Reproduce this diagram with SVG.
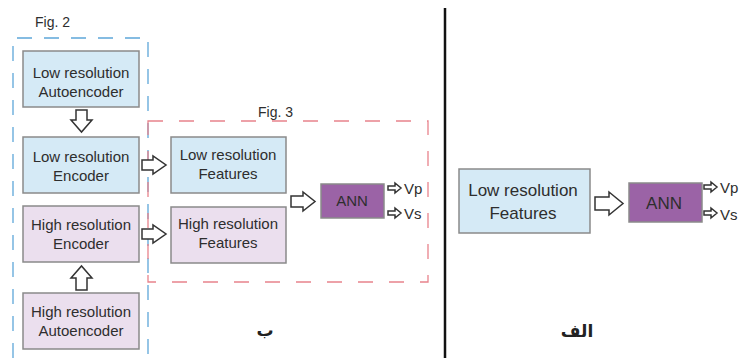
<svg xmlns="http://www.w3.org/2000/svg" width="748" height="358" viewBox="0 0 748 358">
<style>
.box{stroke:#8a8a8a;stroke-width:1.5}
.lo{fill:#d5eaf6}
.hi{fill:#ebdfee}
.ann{fill:#9b63a6}
.t{font-family:"Liberation Sans",Arial,sans-serif;font-size:15px;fill:#2e2e2e;text-anchor:middle}
.tb{font-family:"Liberation Sans",Arial,sans-serif;font-size:17px;fill:#2e2e2e;text-anchor:middle}
.lab{font-family:"Liberation Sans",Arial,sans-serif;font-size:14px;fill:#2e2e2e}
.arr{fill:#fff;stroke:#333;stroke-width:1.5;stroke-linejoin:miter}
.ar{font-family:"DejaVu Sans",sans-serif;font-size:17px;font-weight:bold;fill:#222;text-anchor:middle}
</style>
<rect width="748" height="358" fill="#fff"/>
<g id="fig2-frame">
<path d="M13 358 V38 H148 V358" fill="none" stroke="#5ea7d9" stroke-width="1.3" stroke-dasharray="15,12"/>
<text class="lab" x="35" y="27">Fig. 2</text>
</g>
<g id="fig3-frame">
<rect x="148" y="121" width="280" height="161" fill="none" stroke="#e8838c" stroke-width="1.3" stroke-dasharray="15,16"/>
<text class="lab" x="258" y="117">Fig. 3</text>
</g>
<g id="divider"><line x1="445" y1="8" x2="445" y2="358" stroke="#111" stroke-width="2.5"/></g>
<g id="lr-autoencoder"><rect class="box lo" x="23" y="51" width="116" height="56"/><text class="t" x="81" y="78">Low resolution</text><text class="t" x="81" y="97">Autoencoder</text></g>
<g id="lr-encoder"><rect class="box lo" x="23" y="137" width="116" height="56"/><text class="t" x="81" y="162">Low resolution</text><text class="t" x="81" y="181">Encoder</text></g>
<g id="hr-encoder"><rect class="box hi" x="23" y="206" width="116" height="56"/><text class="t" x="81" y="230">High resolution</text><text class="t" x="81" y="249">Encoder</text></g>
<g id="hr-autoencoder"><rect class="box hi" x="23" y="293" width="116" height="56"/><text class="t" x="81" y="317">High resolution</text><text class="t" x="81" y="336">Autoencoder</text></g>
<g id="lr-features"><rect class="box lo" x="171" y="137" width="115" height="56"/><text class="t" x="228" y="160">Low resolution</text><text class="t" x="228" y="179">Features</text></g>
<g id="hr-features"><rect class="box hi" x="171" y="207" width="115" height="56"/><text class="t" x="228" y="229">High resolution</text><text class="t" x="228" y="248">Features</text></g>
<g id="ann-b"><rect class="box ann" x="321" y="184" width="63" height="34"/><text class="t" x="352" y="206">ANN</text></g>
<g id="lr-features-a"><rect class="box lo" x="459" y="169" width="131" height="64"/><text class="tb" x="523" y="196">Low resolution</text><text class="tb" x="523" y="219">Features</text></g>
<g id="ann-a"><rect class="box ann" x="629" y="183" width="73" height="39"/><text class="tb" x="664" y="209">ANN</text></g>
<g id="outputs">
<text class="t" x="404" y="194" style="text-anchor:start">Vp</text>
<text class="t" x="404" y="219" style="text-anchor:start">Vs</text>
<text class="t" x="720" y="193" style="text-anchor:start">Vp</text>
<text class="t" x="720" y="220" style="text-anchor:start">Vs</text>
</g>
<g id="captions">
<text class="ar" x="265" y="336">ب</text>
<text class="ar" x="577" y="337">الف</text>
</g>
<g id="connectors">
<path class="arr" d="M76 110 H87 V120 H92 L81.5 132 L71 120 H76 Z"/>
<path class="arr" d="M76 290 H87 V278 H92 L81.5 266 L71 278 H76 Z"/>
<path class="arr" d="M142 160 H153 V156 L166 165 L153 174 V170 H142 Z"/>
<path class="arr" d="M142 229 H153 V225 L166 234 L153 243 V239 H142 Z"/>
<path class="arr" d="M291 196 H303 V192 L315 201.5 L303 211 V207 H291 Z"/>
<path class="arr" d="M595 197 H609 V192 L623 203.5 L609 215 V210 H595 Z"/>
<path class="arr" d="M388 186 H395 V183 L401 188 L395 193 V190 H388 Z"/>
<path class="arr" d="M388 211 H395 V208 L401 213 L395 218 V215 H388 Z"/>
<path class="arr" d="M704 185 H711 V182 L717 187 L711 192 V189 H704 Z"/>
<path class="arr" d="M704 211 H711 V208 L717 213 L711 218 V215 H704 Z"/>
</g>
</svg>
